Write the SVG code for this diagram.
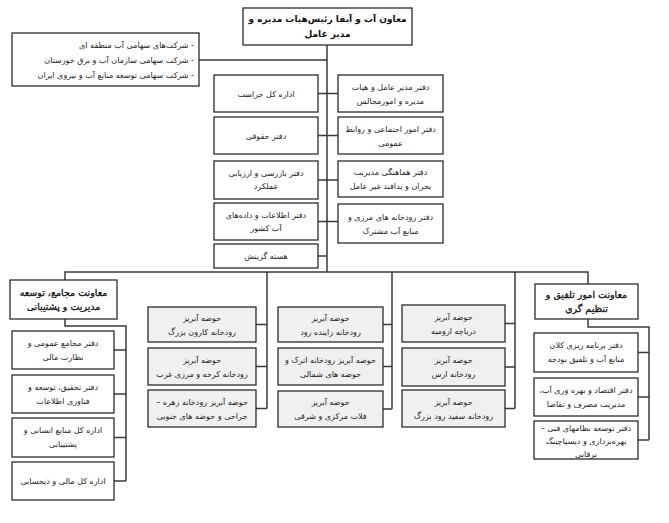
<svg xmlns="http://www.w3.org/2000/svg" width="669" height="523" viewBox="0 0 669 523">
<style>
.b{fill:#fff;stroke:#2b2b2b;stroke-width:1.3}
.g{fill:#f0f0f0;stroke:#2b2b2b;stroke-width:1.3}
.c{fill:none;stroke:#3a3a3a;stroke-width:1.5}
text{font-family:"DejaVu Sans","Noto Sans",sans-serif;font-size:8px;fill:#222;text-anchor:middle;direction:rtl}
.h{font-size:9px;font-weight:bold;fill:#111}
.m{font-size:9.5px;fill:#111;stroke:#111;stroke-width:0.3}
.r{text-anchor:start}
</style>
<rect width="669" height="523" fill="#fff"/>
<g id="connectors">
<path class="c" d="M327 45V272M199 60H327"/>
<path class="c" d="M318 93.5H338M318 135.5H338M318 180H338M318 221.5H338M318 256H327"/>
<path class="c" d="M65 280V272H588V284"/>
<path class="c" d="M267 272V408.5M256 324.5H267M256 366.5H267M256 408.5H267"/>
<path class="c" d="M392 272V409M383 324.5H392M383 366.5H392M383 409H392"/>
<path class="c" d="M515 272V408.5M505 323.5H515M505 367H515M505 408.5H515"/>
<path class="c" d="M65 319V326H126V481M114 350H126M114 394H126M114 437.5H126M114 481H126"/>
<path class="c" d="M588 319V327H649V440M638 352.5H649M638 397H649M638 440H649"/>
</g>
<g id="n-top"><rect class="b" x="243" y="8" width="169" height="37"/><text class="h" x="327.5" y="22">معاون آب و آبفا رئیس‌هیات مدیره و</text><text class="h" x="327.5" y="37">مدیر عامل</text></g>
<g id="n-companies"><rect class="b" x="12" y="33" width="187" height="53"/><text class="r" x="194" y="48">- شرکت‌های سهامی آب منطقه ای</text><text class="r" x="194" y="63">- شرکت سهامی سازمان آب و برق خوزستان</text><text class="r" x="194" y="78">- شرکت سهامی توسعه منابع آب و نیروی ایران</text></g>
<g id="n-herasat"><rect class="b" x="214" y="75" width="104" height="37"/><text x="266" y="96.5">اداره کل حراست</text></g>
<g id="n-hoghoghi"><rect class="b" x="214" y="117" width="104" height="37"/><text x="266" y="138.5">دفتر حقوقی</text></g>
<g id="n-bazresi"><rect class="b" x="214" y="161" width="104" height="38"/><text x="266" y="176">دفتر بازرسی و ارزیابی</text><text x="266" y="189">عملکرد</text></g>
<g id="n-etelaat"><rect class="b" x="214" y="203" width="104" height="37"/><text x="266" y="218">دفتر اطلاعات و داده‌های</text><text x="266" y="231">آب کشور</text></g>
<g id="n-gozinesh"><rect class="b" x="214" y="244" width="104" height="24"/><text x="266" y="259">هسته گزینش</text></g>
<g id="n-modir"><rect class="b" x="338" y="75" width="105" height="37"/><text x="390.5" y="89.5">دفتر مدیر عامل و هیات</text><text x="390.5" y="103.5">مدیره و امورمجالس</text></g>
<g id="n-ejtemaei"><rect class="b" x="338" y="117" width="105" height="37"/><text x="390.5" y="131.5">دفتر امور اجتماعی و روابط</text><text x="390.5" y="145.5">عمومی</text></g>
<g id="n-bohran"><rect class="b" x="338" y="161" width="105" height="36"/><text x="390.5" y="175">دفتر هماهنگی مدیریت</text><text x="390.5" y="189">بحران و پدافند غیر عامل</text></g>
<g id="n-marzi"><rect class="b" x="338" y="204" width="105" height="39"/><text x="390.5" y="220">دفتر رودخانه های مرزی و</text><text x="390.5" y="234">منابع آب مشترک</text></g>
<g id="n-moavenat1"><rect class="b" x="10" y="280" width="107" height="39"/><text class="m" x="63.5" y="296">معاونت مجامع، توسعه</text><text class="m" x="63.5" y="310">مدیریت و پشتیبانی</text></g>
<g id="n-majame"><rect class="b" x="12" y="331" width="102" height="38"/><text x="63" y="346">دفتر مجامع عمومی و</text><text x="63" y="360">نظارت مالی</text></g>
<g id="n-tahghigh"><rect class="b" x="12" y="375" width="102" height="38"/><text x="63" y="390">دفتر تحقیق، توسعه و</text><text x="63" y="404">فناوری اطلاعات</text></g>
<g id="n-ensani"><rect class="b" x="12" y="418" width="102" height="39"/><text x="63" y="433">اداره کل منابع انسانی و</text><text x="63" y="447">پشتیبانی</text></g>
<g id="n-mali"><rect class="b" x="12" y="462" width="102" height="38"/><text x="63" y="484">اداره کل مالی و ذیحسابی</text></g>
<g id="n-karun"><rect class="g" x="148" y="307" width="108" height="35"/><text x="202" y="321">حوضه آبریز</text><text x="202" y="335">رودخانه کارون بزرگ</text></g>
<g id="n-karkheh"><rect class="g" x="148" y="348" width="108" height="37"/><text x="202" y="363">حوضه آبریز</text><text x="202" y="377">رودخانه کرخه و مرزی غرب</text></g>
<g id="n-zohreh"><rect class="g" x="148" y="390" width="108" height="37"/><text x="202" y="405">حوضه آبریز رودخانه زهره –</text><text x="202" y="419">جراحی و حوضه های جنوبی</text></g>
<g id="n-zayandeh"><rect class="g" x="278" y="307" width="105" height="35"/><text x="330.5" y="321">حوضه آبریز</text><text x="330.5" y="335">رودخانه زاینده رود</text></g>
<g id="n-atrak"><rect class="g" x="278" y="348" width="105" height="37"/><text x="330.5" y="363">حوضه آبریز رودخانه اترک و</text><text x="330.5" y="377">حوضه های شمالی</text></g>
<g id="n-falat"><rect class="g" x="278" y="391" width="105" height="36"/><text x="330.5" y="405">حوضه آبریز</text><text x="330.5" y="419">فلات مرکزی و شرقی</text></g>
<g id="n-urmia"><rect class="g" x="402" y="305" width="103" height="37"/><text x="453.5" y="320">حوضه آبریز</text><text x="453.5" y="334">دریاچه ارومیه</text></g>
<g id="n-aras"><rect class="g" x="402" y="348" width="103" height="38"/><text x="453.5" y="363">حوضه آبریز</text><text x="453.5" y="377">رودخانه ارس</text></g>
<g id="n-sefidrud"><rect class="g" x="402" y="390" width="103" height="37"/><text x="453.5" y="405">حوضه آبریز</text><text x="453.5" y="419">رودخانه سفید رود بزرگ</text></g>
<g id="n-moavenat2"><rect class="b" x="535" y="284" width="103" height="35"/><text class="m" x="586.5" y="298">معاونت امور تلفیق و</text><text class="m" x="586.5" y="312">تنظیم گری</text></g>
<g id="n-barnameh"><rect class="b" x="534" y="333" width="104" height="39"/><text x="586" y="348">دفتر برنامه ریزی کلان</text><text x="586" y="362">منابع آب و تلفیق بودجه</text></g>
<g id="n-eghtesad"><rect class="b" x="534" y="378" width="104" height="38"/><text x="586" y="393">دفتر اقتصاد و بهره وری آب،</text><text x="586" y="407">مدیریت مصرف و تقاضا</text></g>
<g id="n-dispatching"><rect class="b" x="534" y="421" width="104" height="38"/><text x="586" y="431">دفتر توسعه نظامهای فنی –</text><text x="586" y="444">بهره‌برداری و دیسپاچینگ</text><text x="586" y="457">برقابی</text></g>
</svg>
